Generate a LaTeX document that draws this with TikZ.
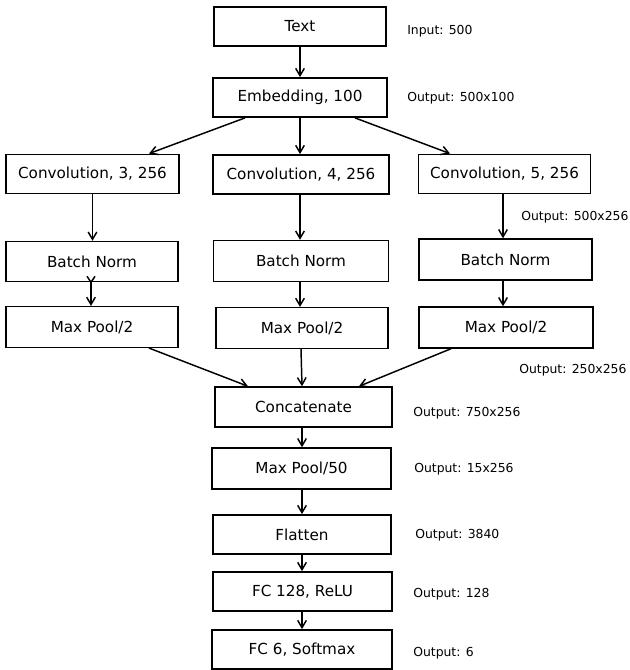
\documentclass[tikz,border=0pt]{standalone}
\usepackage{fontspec}
\setmainfont{DejaVu Sans}
\usetikzlibrary{arrows.meta, positioning}

\begin{document}
\begin{tikzpicture}[x=0.75pt, y=-0.75pt,
        layer/.style={rectangle, draw=black, line width=1.1pt, minimum height=29.5pt, inner sep=2pt, align=center, font=\fontsize{11.4}{13}\selectfont},
        dims/.style={anchor=west, inner sep=0pt, font=\fontsize{9.3}{11}\selectfont},
        conn/.style={-{Straight Barb[length=5.5pt, width=6.5pt]}, line width=1.1pt},
        twotip/.style={{Straight Barb[length=4.5pt, width=6pt, reversed]}-{Straight Barb[length=5.5pt, width=6.5pt]}, line width=1.1pt}
    ]
        \useasboundingbox (0,0) rectangle (630,670);

        % Input and embedding
        \node[layer, minimum width=129pt] (txt) at (300,26.5) {Text};
        \node[layer, minimum width=130.5pt] (emb) at (300,97.5) {Embedding, 100};

        % Three convolution branches
        \node[layer, minimum width=129.75pt] (conv3) at (92.5,174) {Convolution, 3, 256};
        \node[layer, minimum width=132pt] (conv4) at (301,174.5) {Convolution, 4, 256};
        \node[layer, minimum width=129pt] (conv5) at (504.5,174) {Convolution, 5, 256};

        \node[layer, minimum width=129pt, minimum height=30pt] (bn3a) at (92,261.5) {Batch Norm};
        \node[layer, minimum width=131pt, minimum height=30.75pt] (bn4a) at (301,261) {Batch Norm};
        \node[layer, minimum width=129.75pt, minimum height=30.75pt] (bn5a) at (505.5,259.5) {Batch Norm};

        \node[layer, minimum width=129pt, minimum height=30.5pt] (mp3) at (92,327) {Max Pool/2};
        \node[layer, minimum width=129pt, minimum height=30.5pt] (mp4) at (302,328) {Max Pool/2};
        \node[layer, minimum width=130.5pt, minimum height=30.75pt] (mp5) at (506,327.5) {Max Pool/2};

        % Merged part
        \node[layer, minimum width=132.75pt, minimum height=30pt] (cat) at (303.5,407) {Concatenate};
        \node[layer, minimum width=134.25pt, minimum height=30.75pt] (mp50) at (301.5,468.5) {Max Pool/50};
        \node[layer, minimum width=133.5pt] (flat) at (302,534.5) {Flatten};
        \node[layer, minimum width=134.25pt] (fc128) at (302.5,591.5) {FC 128, ReLU};
        \node[layer, minimum width=135pt] (fc6) at (302,649.5) {FC 6, Softmax};

        % Sizes
        \node[dims] (d_in) at (407,31) {Input: 500};
        \node[dims] (d_emb) at (407,98) {Output: 500x100};
        \node[dims] (d_conv) at (521,217) {Output: 500x256};
        \node[dims] (d_pool) at (519,370) {Output: 250x256};
        \node[dims] (d_cat) at (413,413) {Output: 750x256};
        \node[dims] (d_mp50) at (414,469) {Output: 15x256};
        \node[dims] (d_flat) at (415,535) {Output: 3840};
        \node[dims] (d_fc128) at (413,594) {Output: 128};
        \node[dims] (d_fc6) at (413,653) {Output: 6};

        % Arrows
        \draw[conn] (txt.south) -- (emb.north);
        \draw[conn] (emb.south -| 245,0) -- (conv3.north -| 149,0);
        \draw[conn] (emb.south) -- (conv4.north -| emb.south);
        \draw[conn] (emb.south -| 355,0) -- (conv5.north -| 450,0);

        \draw[conn] (conv3.south) -- (bn3a.north -| conv3.south);
        \draw[conn] (conv4.south -| 300,0) -- (bn4a.north -| 300,0);
        \draw[conn] (conv5.south -| 503,0) -- (bn5a.north -| 503,0);

        \draw[twotip] ([yshift=5pt]bn3a.south -| 91,0) -- (mp3.north -| 91,0);
        \draw[conn] (bn4a.south -| 300,0) -- (mp4.north -| 300,0);
        \draw[conn] (bn5a.south -| 503,0) -- (mp5.north -| 503,0);

        \draw[conn] (mp3.south -| 149,0) -- (cat.north -| 248,0);
        \draw[conn] (mp4.south -| 301,0) -- (cat.north -| 302,0);
        \draw[conn] (mp5.south -| 451,0) -- (cat.north -| 359,0);

        \draw[conn] (cat.south -| 302,0) -- (mp50.north -| 302,0);
        \draw[conn] (mp50.south -| 302,0) -- (flat.north -| 302,0);
        \draw[conn] (flat.south -| 302,0) -- (fc128.north -| 302,0);
        \draw[conn] (fc128.south -| 302,0) -- (fc6.north -| 302,0);
    \end{tikzpicture}
\end{document}
